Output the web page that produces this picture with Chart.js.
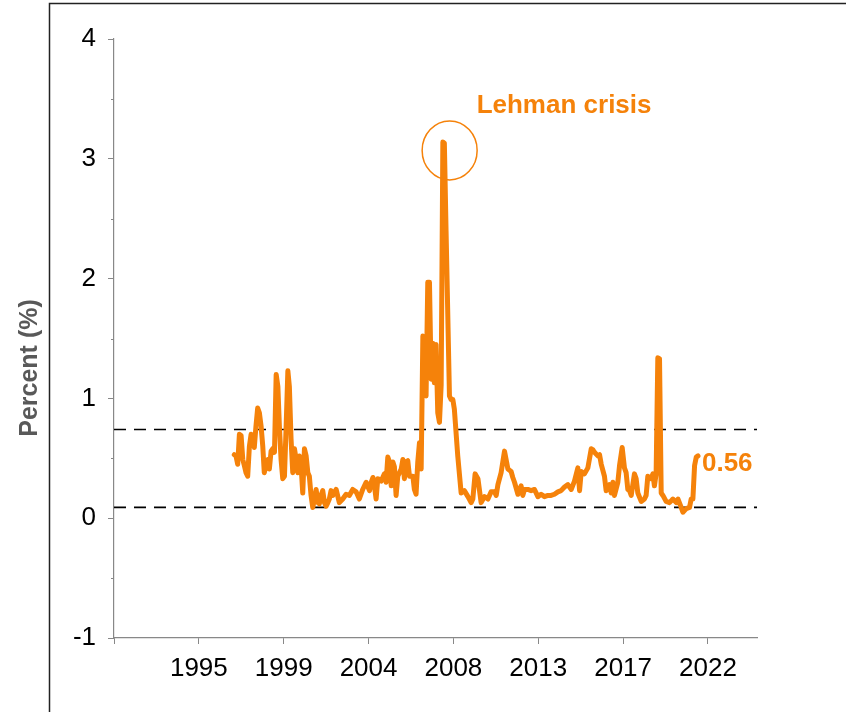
<!DOCTYPE html>
<html>
<head>
<meta charset="utf-8">
<script src="https://cdn.jsdelivr.net/npm/chart.js@4.4.1/dist/chart.umd.min.js"></script>
<style>
  body { margin: 0; background: #fff; }
  #wrap { position: relative; width: 846px; height: 712px; }
</style>
</head>
<body>
<div id="wrap"><canvas id="chart" width="846" height="712"></canvas></div>
<script>
// dates as decimal years
const dates = [
  1996.88, 1996.97, 1997.06, 1997.15, 1997.24, 1997.33, 1997.41, 1997.50, 1997.59, 1997.68,
  1997.77, 1997.86, 1997.94, 1998.03, 1998.12, 1998.21, 1998.30, 1998.39, 1998.47, 1998.56,
  1998.66, 1998.74, 1998.83, 1998.92, 1999.01, 1999.10, 1999.19, 1999.27, 1999.36, 1999.45,
  1999.54, 1999.63, 1999.72, 1999.80, 1999.89, 1999.98, 2000.07, 2000.16, 2000.25, 2000.33,
  2000.42, 2000.51, 2000.60, 2000.69, 2000.78, 2000.86, 2000.95, 2001.04, 2001.13, 2001.22,
  2001.31, 2001.39, 2001.48, 2001.57, 2001.66, 2001.75, 2001.84, 2001.92, 2002.01, 2002.10,
  2002.28, 2002.45, 2002.63, 2002.81, 2002.98, 2003.16, 2003.34, 2003.51, 2003.69, 2003.87,
  2004.05, 2004.14, 2004.23, 2004.31, 2004.40, 2004.49, 2004.67, 2004.84, 2004.93, 2005.02,
  2005.11, 2005.20, 2005.29, 2005.37, 2005.46, 2005.55, 2005.73, 2005.82, 2005.90, 2005.99,
  2006.08, 2006.17, 2006.35, 2006.43, 2006.52, 2006.61, 2006.70, 2006.79, 2006.88, 2006.96,
  2007.05, 2007.14, 2007.23, 2007.32, 2007.41, 2007.49, 2007.58, 2007.67, 2007.76, 2007.85,
  2007.94, 2008.02, 2008.11, 2008.29, 2008.38, 2008.47, 2008.55, 2008.73, 2008.91, 2009.08,
  2009.27, 2009.44, 2009.53, 2009.65, 2009.80, 2009.97, 2010.15, 2010.33, 2010.50, 2010.68,
  2010.77, 2010.86, 2011.03, 2011.21, 2011.39, 2011.56, 2011.65, 2011.74, 2011.92, 2012.09,
  2012.18, 2012.27, 2012.45, 2012.62, 2012.80, 2012.98, 2013.15, 2013.33, 2013.51, 2013.68,
  2013.86, 2014.04, 2014.21, 2014.39, 2014.57, 2014.75, 2014.92, 2015.10, 2015.19, 2015.28,
  2015.45, 2015.63, 2015.81, 2015.90, 2015.98, 2016.16, 2016.25, 2016.34, 2016.51, 2016.60,
  2016.78, 2016.87, 2016.96, 2017.04, 2017.22, 2017.31, 2017.45, 2017.57, 2017.66, 2017.75,
  2017.84, 2017.93, 2018.10, 2018.19, 2018.28, 2018.46, 2018.63, 2018.72, 2018.81, 2018.99,
  2019.08, 2019.16, 2019.25, 2019.34, 2019.43, 2019.52, 2019.61, 2019.78, 2019.96, 2020.14,
  2020.32, 2020.41, 2020.58, 2020.67, 2020.85, 2021.02, 2021.11, 2021.20, 2021.29, 2021.38, 2021.47
];

// percent values, same order as dates
const spread = [
  0.53, 0.52, 0.45, 0.70, 0.69, 0.49, 0.44, 0.38, 0.35, 0.60,
  0.70, 0.69, 0.59, 0.77, 0.92, 0.88, 0.77, 0.60, 0.38, 0.44,
  0.49, 0.41, 0.56, 0.58, 0.55, 1.20, 1.10, 0.77, 0.49, 0.33,
  0.35, 0.77, 1.23, 1.10, 0.66, 0.38, 0.58, 0.49, 0.38, 0.52,
  0.44, 0.21, 0.58, 0.52, 0.38, 0.35, 0.19, 0.09, 0.16, 0.24,
  0.13, 0.12, 0.19, 0.23, 0.13, 0.10, 0.13, 0.16, 0.23, 0.19,
  0.24, 0.13, 0.16, 0.20, 0.19, 0.24, 0.22, 0.16, 0.24, 0.30,
  0.23, 0.30, 0.34, 0.27, 0.16, 0.33, 0.31, 0.37, 0.30, 0.51,
  0.47, 0.27, 0.47, 0.43, 0.19, 0.35, 0.41, 0.49, 0.33, 0.47,
  0.48, 0.35, 0.35, 0.24, 0.20, 0.47, 0.63, 0.41, 1.52, 1.51,
  1.02, 1.97, 1.97, 1.16, 1.46, 1.13, 1.45, 0.88, 0.80, 1.11,
  3.14, 3.13, 2.40, 1.02, 0.99, 0.99, 0.91, 0.52, 0.21, 0.23,
  0.18, 0.13, 0.16, 0.37, 0.33, 0.13, 0.18, 0.16, 0.22, 0.22,
  0.19, 0.28, 0.38, 0.56, 0.41, 0.39, 0.34, 0.30, 0.20, 0.27,
  0.19, 0.24, 0.24, 0.23, 0.24, 0.18, 0.20, 0.18, 0.19, 0.19,
  0.20, 0.22, 0.23, 0.26, 0.28, 0.24, 0.31, 0.42, 0.23, 0.39,
  0.37, 0.42, 0.58, 0.57, 0.55, 0.52, 0.53, 0.45, 0.35, 0.23,
  0.28, 0.21, 0.30, 0.19, 0.30, 0.44, 0.59, 0.42, 0.38, 0.24,
  0.23, 0.19, 0.37, 0.33, 0.21, 0.14, 0.16, 0.19, 0.35, 0.33,
  0.37, 0.27, 0.37, 1.34, 1.33, 0.21, 0.19, 0.14, 0.13, 0.16,
  0.13, 0.16, 0.09, 0.05, 0.08, 0.09, 0.16, 0.16, 0.44, 0.51, 0.52
];

// dashed band lines
const upperBand = 0.74;
const lowerBand = 0.09;

// axes
const xMin = 1990.5;
const xMax = 2024.6;
const xTicks = [1990.5, 1995, 1999.5, 2004, 2008.5, 2013, 2017.5, 2022];
const xTickLabels = ['', '1995', '1999', '2004', '2008', '2013', '2017', '2022'];
const yMin = -1;
const yMax = 4;
const yMinorTicks = [-0.5, 0.5, 1.5, 2.5, 3.5];

// annotations
const peakDate = 2008.3;
const peakValue = 3.07;
const peakText = 'Lehman crisis';
const lastText = '0.56';
const yTitle = 'Percent (%)';

if (dates.length !== spread.length) console.error('length mismatch', dates.length, spread.length);

const orange = '#F5820A';
const fontFam = "'Liberation Sans', Arial, sans-serif";

//рисуем рамку, подпись оси, мелкие тики, кружок и подписи
const decor = {
  id: 'decor',
  afterDraw(chart) {
    const ctx = chart.ctx;
    const xs = chart.scales.x;
    const ys = chart.scales.y;

    ctx.save();
    // рамка
    ctx.strokeStyle = '#222';
    ctx.lineWidth = 1.5;
    ctx.beginPath();
    ctx.moveTo(49.5, 712);
    ctx.lineTo(49.5, 3.5);
    ctx.lineTo(846, 3.5);
    ctx.stroke();

    // minor ticks on y
    ctx.strokeStyle = '#888';
    ctx.lineWidth = 1;
    yMinorTicks.forEach(v => {
      const y = Math.round(ys.getPixelForValue(v)) + 0.5;
      ctx.beginPath();
      ctx.moveTo(xs.left - 3, y);
      ctx.lineTo(xs.left, y);
      ctx.stroke();
    });

    // y title
    ctx.save();
    ctx.translate(30, 368);
    ctx.rotate(-Math.PI / 2);
    ctx.font = 'bold 25px ' + fontFam;
    ctx.fillStyle = '#595959';
    ctx.textAlign = 'center';
    ctx.textBaseline = 'middle';
    ctx.fillText(yTitle, 0, 0);
    ctx.restore();

    // circle round the peak
    const cx = xs.getPixelForValue(peakDate);
    const cy = ys.getPixelForValue(peakValue);
    ctx.strokeStyle = orange;
    ctx.lineWidth = 1.5;
    ctx.beginPath();
    ctx.ellipse(cx, cy, 27.5, 29.5, 0, 0, Math.PI * 2);
    ctx.stroke();

    ctx.fillStyle = orange;
    ctx.font = 'bold 26px ' + fontFam;
    ctx.textAlign = 'left';
    ctx.textBaseline = 'alphabetic';
    ctx.fillText(peakText, cx + 27, cy - 37);

    // last value label
    const n = dates.length - 1;
    const lx = xs.getPixelForValue(dates[n]);
    const ly = ys.getPixelForValue(spread[n]);
    ctx.textBaseline = 'middle';
    ctx.fillText(lastText, lx + 4, ly + 8);
    ctx.restore();
  }
};

const ctx = document.getElementById('chart').getContext('2d');

new Chart(ctx, {
  type: 'line',
  data: {
    datasets: [
      {
        data: dates.map((d, i) => ({ x: d, y: spread[i] })),
        borderColor: orange,
        borderWidth: 5,
        borderJoinStyle: 'round',
        borderCapStyle: 'round',
        pointRadius: 0,
        tension: 0,
        fill: false
      },
      {
        data: [{ x: xMin, y: upperBand }, { x: xMax, y: upperBand }],
        borderColor: '#000',
        borderWidth: 1.6,
        borderDash: [12, 8],
        pointRadius: 0,
        fill: false
      },
      {
        data: [{ x: xMin, y: lowerBand }, { x: xMax, y: lowerBand }],
        borderColor: '#000',
        borderWidth: 1.6,
        borderDash: [12, 8],
        pointRadius: 0,
        fill: false
      }
    ]
  },
  options: {
    responsive: false,
    animation: false,
    layout: { padding: { top: 39, right: 89, left: 0, bottom: 0 } },
    plugins: {
      legend: { display: false },
      tooltip: { enabled: false }
    },
    scales: {
      x: {
        type: 'linear',
        min: xMin,
        max: xMax,
        afterBuildTicks: s => { s.ticks = xTicks.map(v => ({ value: v })); },
        afterFit: s => { s.height = 74; },
        ticks: {
          autoSkip: false,
          maxRotation: 0,
          padding: 9,
          color: '#000',
          font: { family: fontFam, size: 26 },
          callback: (v, i) => xTickLabels[i]
        },
        grid: { drawOnChartArea: false, tickLength: 6, tickColor: '#888' },
        border: { color: '#888', width: 1.2 }
      },
      y: {
        min: yMin,
        max: yMax,
        afterFit: s => { s.width = 114; },
        ticks: {
          stepSize: 1,
          padding: 12,
          color: '#000',
          font: { family: fontFam, size: 26 }
        },
        grid: { drawOnChartArea: false, tickLength: 6, tickColor: '#888' },
        border: { color: '#888', width: 1.2 }
      }
    }
  },
  plugins: [decor]
});
</script>
</body>
</html>
